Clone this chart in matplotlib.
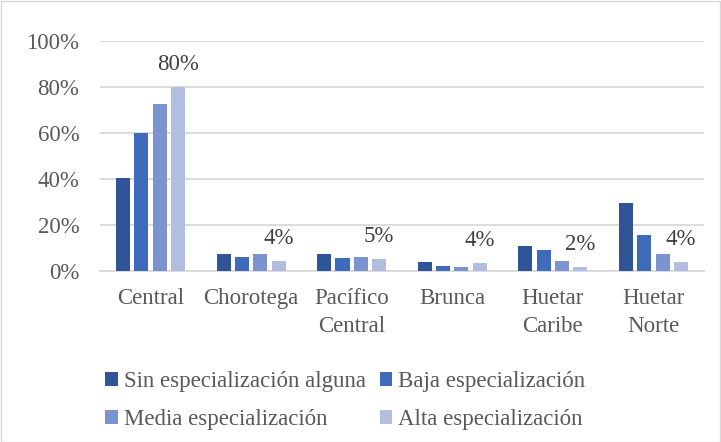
import matplotlib
matplotlib.use("Agg")
import matplotlib.pyplot as plt
from matplotlib.patches import Rectangle
import numpy as np

categories = ["Central", "Chorotega", "Pacífico\nCentral", "Brunca", "Huetar\nCaribe", "Huetar\nNorte"]
series_names = ["Sin especialización alguna", "Baja especialización",
                "Media especialización", "Alta especialización"]
sin_vals = [40.3, 7.3, 7.3, 3.8, 10.7, 29.4]
baja_vals = [60.0, 6.1, 5.6, 2.0, 9.1, 15.6]
media_vals = [72.5, 7.4, 5.9, 1.5, 4.3, 7.2]
alta_vals = [80.0, 4.2, 5.2, 3.5, 1.6, 3.9]
alta_labels = ["80%", "4%", "5%", "4%", "2%", "4%"]
yticks = [0, 20, 40, 60, 80, 100]
ytick_labels = ["0%", "20%", "40%", "60%", "80%", "100%"]

colors = ["#2F5597", "#3E6BBA", "#7B94D0", "#B2BEE0"]
text_color = "#595959"
fs = 16.5

plt.rcParams['font.family'] = ['Liberation Serif', 'DejaVu Serif']

fig = plt.figure(figsize=(7.21, 4.42), dpi=100)
ax = fig.add_axes([0.139, 0.387, 0.837, 0.520])

x = np.arange(len(categories))
pitch = 0.182
width = 0.14
all_series = [sin_vals, baja_vals, media_vals, alta_vals]
for i, (vals, name, c) in enumerate(zip(all_series, series_names, colors)):
    offs = (i - 1.5) * pitch
    ax.bar(x + offs, vals, width=width, color=c, label=name, zorder=3)
    if i == 3:
        for xi, v, lab in zip(x, vals, alta_labels):
            ax.annotate(lab, (xi + offs, v), xytext=(0, 8.5), textcoords="offset points",
                        ha="center", va="bottom", fontsize=fs, color="#404040")

ax.set_xlim(-0.5, len(categories) - 0.5)
ax.set_ylim(0, 100)
ax.set_yticks(yticks)
ax.set_yticklabels(ytick_labels, fontsize=fs, color=text_color)
ax.set_xticks(x)
ax.set_xticklabels(categories, fontsize=fs, color=text_color, linespacing=1.45)
ax.tick_params(axis="both", length=0)
ax.tick_params(axis="y", pad=15)
ax.tick_params(axis="x", pad=12)
ax.grid(axis="y", color="#D9D9D9", linewidth=1.3, zorder=0)
for s in ["left", "right", "top"]:
    ax.spines[s].set_visible(False)
ax.spines["bottom"].set_color("#D9D9D9")
ax.spines["bottom"].set_linewidth(1.3)

handles, labels = ax.get_legend_handles_labels()
order = [0, 2, 1, 3]
leg = fig.legend([handles[k] for k in order], [labels[k] for k in order], ncol=2,
                 loc="upper left", bbox_to_anchor=(0.124, 0.197),
                 frameon=False, fontsize=fs, handlelength=0.55, handleheight=0.55,
                 handletextpad=0.25, columnspacing=0.6, labelspacing=0.75,
                 borderpad=0.2, labelcolor=text_color)

fig.patches.append(Rectangle((0.001, 0.001), 0.997, 0.996, transform=fig.transFigure,
                             fill=False, edgecolor="#D9D9D9", linewidth=1.0))

fig.savefig("out.png", dpi=100)
